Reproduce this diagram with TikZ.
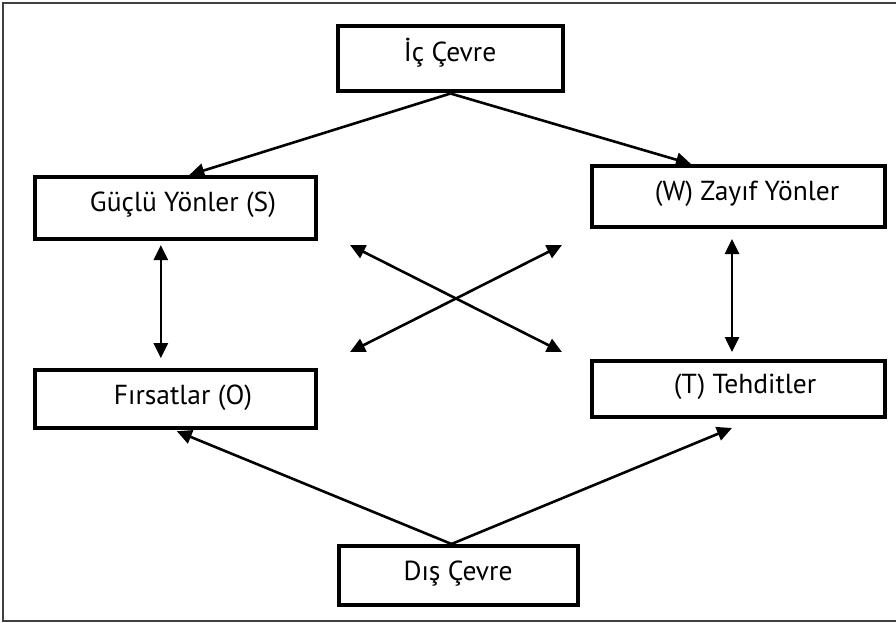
\documentclass[tikz,border=0pt]{standalone}
\usepackage{fontspec}
\setmainfont{PT Sans}
\usetikzlibrary{arrows.meta,calc}
\begin{document}
\begin{tikzpicture}[x=1pt,y=-1pt,
  box/.style={draw=black, line width=4pt, rectangle, inner sep=0pt},
  lbl/.style={anchor=base, inner sep=0pt, font=\fontsize{27.5}{32}\selectfont},
  arr/.style={line width=2.6pt, -{Triangle[length=15pt,width=14pt]}},
  darr/.style={line width=2.6pt, {Triangle[length=15pt,width=14pt]}-{Triangle[length=15pt,width=14pt]}}]
\useasboundingbox (0,0) rectangle (896,623);
\fill[white] (0,0) rectangle (896,623);
% frame
\draw[line width=2pt, black!75] (896,3) -- (3,3) -- (3,621) -- (896,621);
% boxes
\node[box, minimum width=225pt, minimum height=65pt] (ic) at (450.5,59) {};
\node[box, minimum width=281pt, minimum height=62pt] (s) at (175.3,208) {};
\node[box, minimum width=293pt, minimum height=61pt] (w) at (738.5,196.5) {};
\node[box, minimum width=281pt, minimum height=58pt] (o) at (175.3,398.7) {};
\node[box, minimum width=293pt, minimum height=56pt] (t) at (738.5,389) {};
\node[box, minimum width=239pt, minimum height=59pt] (d) at (458.5,575.5) {};
% labels
\node[lbl] (ict) at (450,62) {İç Çevre};
\node[lbl] (st) at (183,211) {Güçlü Yönler (S)};
\node[lbl] (wt) at (747,200) {(W) Zayıf Yönler};
\node[lbl] (ot) at (183,404.5) {Fırsatlar (O)};
\node[lbl] (tt) at (745,393) {(T) Tehditler};
\node[lbl] (dt) at (458,580) {Dış Çevre};
% arrows from internal environment
\draw[arr] (ic.south) -- ($(s.north)+(14,0)$);
\draw[arr] (ic.south) -- ($(w.north)+(-47.5,0)$);
% vertical double arrows
\draw[darr] ($(s.south)+(-14.5,4)$) -- ($(o.north)+(-14.5,-9.5)$);
\draw[darr] ($(w.south)+(-6.5,10)$) -- ($(t.north)+(-6.5,-7)$);
% cross arrows
\coordinate (c1) at (350,245);
\coordinate (c2) at (562,245);
\coordinate (c3) at (350,352);
\coordinate (c4) at (562,352);
\draw[darr] (c1) -- (c4);
\draw[darr] (c2) -- (c3);
% arrows from external environment
\draw[arr] ($(d.north)+(-7,0)$) -- ($(o.south)+(1.5,1.5)$);
\draw[arr] ($(d.north)+(-7,0)$) -- ($(t.south)+(-6.5,9)$);
\end{tikzpicture}
\end{document}
